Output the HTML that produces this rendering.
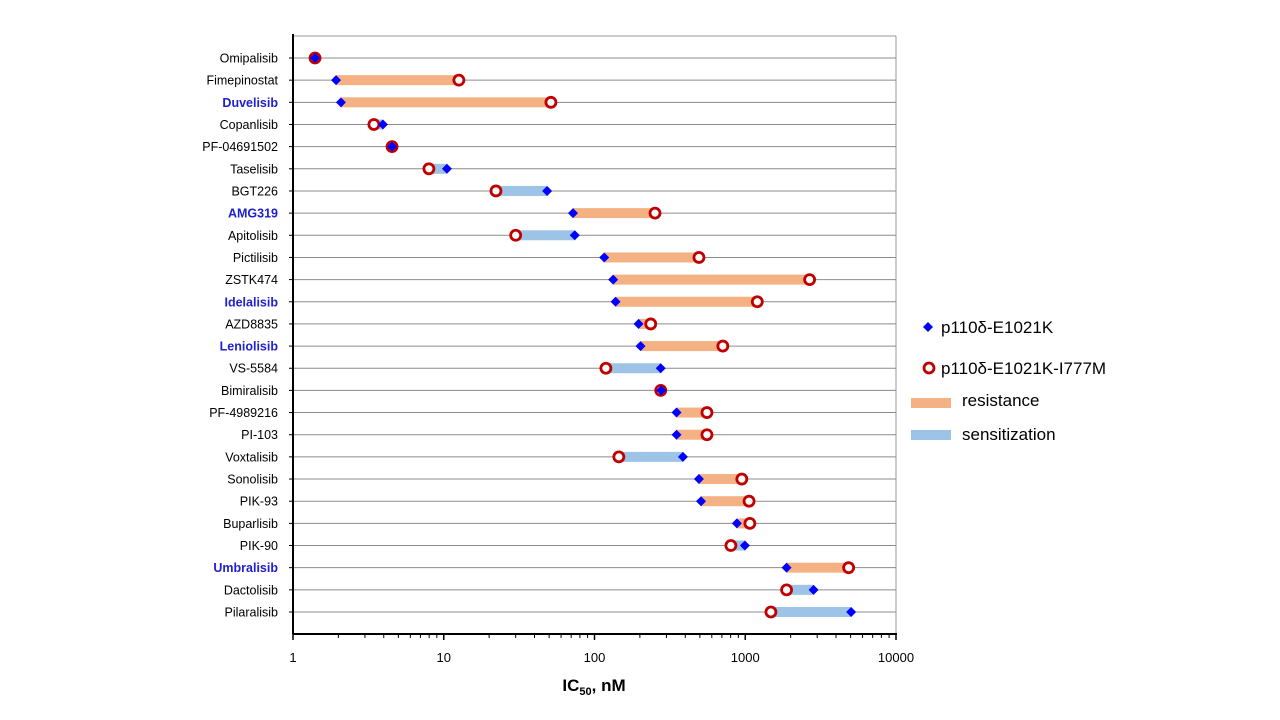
<!DOCTYPE html>
<html><head><meta charset="utf-8"><style>
body{margin:0;background:#fff;}
svg{display:block;font-family:"Liberation Sans",Arial,sans-serif;}
</style></head><body>
<svg id="chart" width="1280" height="720" viewBox="0 0 1280 720" xmlns="http://www.w3.org/2000/svg">
<g id="grid"></g>
<g id="bars"></g>
<g id="marks"></g>
<g id="axes"></g>
<g id="labels"></g>
<text x="594" y="691" text-anchor="middle" font-size="17" font-weight="bold">IC<tspan font-size="11" dy="4">50</tspan><tspan dy="-4">, nM</tspan></text>
<g>
<path d="M928 322 L933 327 L928 332 L923 327 Z" fill="#0000FF"/>
<text x="941" y="333" font-size="17">p110δ-E1021K</text>
<circle cx="929" cy="368" r="5" fill="#fff" stroke="#C00000" stroke-width="2.8"/>
<text x="941" y="374" font-size="17">p110δ-E1021K-I777M</text>
<rect x="911" y="398" width="40" height="10" fill="#F4B183"/>
<text x="962" y="406" font-size="17">resistance</text>
<rect x="911" y="430" width="40" height="10" fill="#9DC3E6"/>
<text x="962" y="440" font-size="17">sensitization</text>
</g>
</svg>
<script>
const drugs=["Omipalisib","Fimepinostat","Duvelisib","Copanlisib","PF-04691502","Taselisib","BGT226","AMG319","Apitolisib","Pictilisib","ZSTK474","Idelalisib","AZD8835","Leniolisib","VS-5584","Bimiralisib","PF-4989216","PI-103","Voxtalisib","Sonolisib","PIK-93","Buparlisib","PIK-90","Umbralisib","Dactolisib","Pilaralisib"];
const highlighted=["Duvelisib","AMG319","Idelalisib","Leniolisib","Umbralisib"];
const e1021k=[1.4,1.93,2.08,3.95,4.54,10.5,48.5,72,74,116,133,138,196,202,275,277,350,350,386,493,509,880,995,1880,2840,5040];
const i777m=[1.4,12.6,51.4,3.44,4.54,7.97,22.2,252,30,493,2673,1202,236,710,119,275,557,557,145,949,1060,1073,803,4850,1880,1480];
const xTicks=[1,10,100,1000,10000];
const xTickLabels=["1","10","100","1000","10000"];

const NS="http://www.w3.org/2000/svg";
const X0=293,X1=896,Y0=36,Y1=634,ROW0=58,ROWSTEP=22.16;
const x=v=>X0+(Math.log10(v)-Math.log10(xTicks[0]))/(Math.log10(xTicks[xTicks.length-1])-Math.log10(xTicks[0]))*(X1-X0);
const y=i=>ROW0+i*ROWSTEP;
function mk(tag,attrs,parent){const e=document.createElementNS(NS,tag);for(const k in attrs)e.setAttribute(k,attrs[k]);parent.appendChild(e);return e;}
const grid=document.getElementById('grid'),bars=document.getElementById('bars'),marks=document.getElementById('marks'),axes=document.getElementById('axes'),labels=document.getElementById('labels');

let t=mk('line',{x1:X0,y1:Y0,x2:X1,y2:Y0,stroke:'#999','stroke-width':1},grid);

t=mk('line',{x1:X1,y1:Y0,x2:X1,y2:Y1,stroke:'#999','stroke-width':1},grid);


drugs.forEach((d,i)=>{
  const yy=y(i);
  const g=mk('line',{x1:X0,y1:yy,x2:X1,y2:yy,stroke:'#8c8c8c','stroke-width':1},grid);
  
  
  const a=e1021k[i],b=i777m[i];
  if(Math.abs(x(a)-x(b))>1){
    const r=mk('rect',{x:Math.min(x(a),x(b)),y:yy-5,width:Math.abs(x(b)-x(a)),height:10,fill:b>a?'#F4B183':'#9DC3E6'},bars);
    
    
  }
  const c=mk('circle',{cx:x(b),cy:yy,r:5,fill:'#fff',stroke:'#C00000','stroke-width':2.8},marks);
  
  
  const xd=x(a);
  const p=mk('path',{d:`M${xd} ${yy-5}L${xd+5} ${yy}L${xd} ${yy+5}L${xd-5} ${yy}Z`,fill:'#0000FF'},marks);
  
  
  const hl=highlighted.includes(d);
  const l=mk('text',{x:278,y:yy+4.5,'text-anchor':'end','font-size':12.5,fill:hl?'#2020CC':'#000','font-weight':hl?'bold':'normal'},labels);
  l.textContent=d;
  
  
  const tk=mk('line',{x1:X0-4,y1:yy,x2:X0,y2:yy,stroke:'#000','stroke-width':1},axes);
  
  
});

t=mk('line',{x1:X0,y1:Y0-2,x2:X0,y2:Y1,stroke:'#000','stroke-width':2},axes);

t=mk('line',{x1:X0,y1:Y1,x2:X1+1,y2:Y1,stroke:'#000','stroke-width':2},axes);


xTicks.forEach((v,i)=>{
  const tk=mk('line',{x1:x(v),y1:Y1,x2:x(v),y2:Y1+6,stroke:'#000','stroke-width':1.5},axes);
  
  
  const l=mk('text',{x:x(v),y:Y1+28,'text-anchor':'middle','font-size':13},axes);
  l.textContent=xTickLabels[i];
  
  
  if(i<xTicks.length-1){
    for(let m=2;m<=9;m++){
      const mt=mk('line',{x1:x(v*m),y1:Y1,x2:x(v*m),y2:Y1+4,stroke:'#000','stroke-width':1},axes);
      
      
    }
  }
});
</script>
</body></html>
